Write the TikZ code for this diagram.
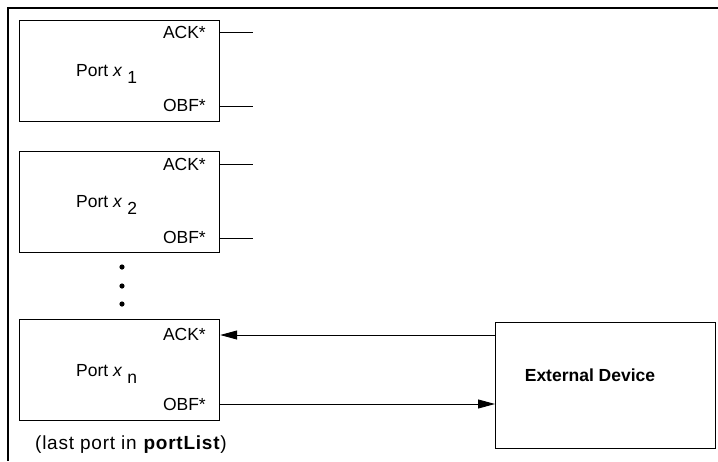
\documentclass[tikz,border=0pt]{standalone}
\usepackage{fontspec}
\setmainfont{Liberation Sans}
\newfontfamily\notefont[LetterSpace=4]{Liberation Sans}
\usetikzlibrary{arrows.meta}
\begin{document}
\begin{tikzpicture}[x=1pt,y=-1pt,
  portbox/.style={draw,line width=1.2pt,minimum width=200pt,minimum height=101pt,anchor=north west,inner sep=0pt},
  sig/.style={font=\fontsize{17.5}{20}\selectfont,anchor=base east,inner sep=0pt},
  lbl/.style={font=\fontsize{17.5}{20}\selectfont,inner sep=0pt,anchor=base west},
  wire/.style={line width=0.9pt},
  arr/.style={line width=0.9pt,-{Triangle[length=17pt,width=9pt]}}]
\useasboundingbox (0,0) rectangle (718,461);
% outer frame (partial)
\draw[line width=1.2pt] (718,8) -- (8,8) -- (8,461);
% port boxes
\node[portbox] (p1) at (19,20) {};
\node[portbox] (p2) at (19,151) {};
\node[portbox] (pn) at (19,319) {};
\node[draw,line width=1.2pt,minimum width=220pt,minimum height=126pt,anchor=north west,inner sep=0pt] (ext) at (495,322) {};
\node[font=\fontsize{17.5}{20}\selectfont\bfseries,inner sep=0pt] (extl) at (590,375) {External Device};
% labels
\node[lbl] (l1) at (76,76) {Port \textit{x}\ \raisebox{-7.5pt}{1}};
\node[lbl] (l2) at (76,207) {Port \textit{x}\ \raisebox{-7.5pt}{2}};
\node[lbl] (ln) at (76,376) {Port \textit{x}\ \raisebox{-7.5pt}{n}};
\node[sig] (a1) at (206,38) {ACK*};
\node[sig] (o1) at (206,111) {OBF*};
\node[sig] (a2) at (206,170) {ACK*};
\node[sig] (o2) at (206,243) {OBF*};
\node[sig] (an) at (206,340) {ACK*};
\node[sig] (on) at (206,410) {OBF*};
% stubs
\coordinate (s1a) at (253,32);
\coordinate (s1o) at (253,106);
\coordinate (s2a) at (253,164);
\coordinate (s2o) at (253,238);
\draw[wire] (p1.east |- s1a) -- (s1a);
\draw[wire] (p1.east |- s1o) -- (s1o);
\draw[wire] (p2.east |- s2a) -- (s2a);
\draw[wire] (p2.east |- s2o) -- (s2o);
% arrows
\coordinate (ya) at (0,335);
\coordinate (yo) at (0,404);
\draw[arr] (ext.west |- ya) -- (pn.east |- ya);
\draw[arr] (pn.east |- yo) -- (ext.west |- yo);
% dots
\fill (122,267) circle (2.6pt);
\fill (122,286) circle (2.6pt);
\fill (122,304) circle (2.6pt);
\node[lbl,font=\notefont\fontsize{19}{21}\selectfont] (note) at (35,449) {(last port in \textbf{portList})};
\end{tikzpicture}
\end{document}
